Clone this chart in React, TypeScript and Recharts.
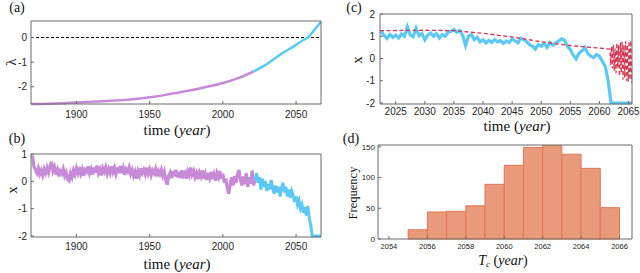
import React from "react";
import { Bar, ComposedChart, Line, LineChart, ReferenceLine, XAxis, YAxis } from "recharts";

// (a) critical parameter lambda over time
const LAMBDA_YEARS = [1869, 1880, 1890, 1900, 1910, 1920, 1930, 1940, 1950, 1960, 1970, 1980, 1990, 2000, 2010, 2021, 2030, 2040, 2050, 2055, 2058, 2062, 2067];
const LAMBDA = [-2.7, -2.69, -2.67, -2.64, -2.61, -2.58, -2.55, -2.5, -2.43, -2.34, -2.23, -2.12, -1.99, -1.85, -1.66, -1.38, -1.08, -0.66, -0.3, -0.1, 0.0, 0.28, 0.64];
const SPLIT_YEAR = 2021;

// (b) simulated state x, one value per year from 1870
const B_START = 1870;
const B_VALUES = [
  0.95, 0.55, 0.42, 0.3, 0.48, 0.26, 0.4, 0.22, 0.45, 0.3,
  0.5, 0.32, 0.55, 0.72, 0.38, 0.52, 0.25, 0.42, 0.18, 0.38,
  0.28, 0.45, 0.2, 0.33, 0.08, 0.02, 0.3, 0.15, 0.4, 0.25,
  0.48, 0.3, 0.52, 0.28, 0.44, 0.2, 0.42, 0.35, 0.55, 0.3,
  0.45, 0.25, 0.5, 0.32, 0.58, 0.3, 0.44, 0.22, 0.48, 0.35,
  0.52, 0.28, 0.46, 0.3, 0.55, 0.34, 0.5, 0.26, 0.44, 0.38,
  0.56, 0.3, 0.48, 0.24, 0.45, 0.36, 0.52, 0.28, 0.42, 0.2,
  0.35, 0.1, 0.38, 0.22, 0.48, 0.3, 0.42, 0.25, 0.5, 0.28,
  0.44, 0.22, 0.4, 0.3, 0.46, 0.18, 0.38, 0.26, 0.42, 0.2,
  0.35, 0.05, -0.12, 0.2, 0.32, 0.12, 0.38, 0.18, 0.42, 0.15,
  0.35, 0.12, 0.4, 0.2, 0.3, 0.1, 0.36, 0.22, 0.5, 0.25,
  0.38, 0.15, 0.3, 0.08, 0.32, 0.18, 0.4, 0.1, 0.28, 0.05,
  0.3, 0.12, 0.35, 0.08, 0.26, 0.02, 0.3, 0.15, 0.38, 0.1,
  0.28, -0.05, 0.1, -0.25, -0.45, -0.1, 0.15, -0.15, 0.2, -0.05,
  0.25, 0.42, 0.05, -0.15, 0.18, -0.1, 0.3, -0.2, 0.15, -0.08,
  0.4, -0.15, 0.05, 0.3, -0.05, 0.15, -0.3, 0.1, -0.2, 0.0,
  -0.35, -0.1, -0.3, 0.05, -0.25, -0.45, -0.15, -0.4, -0.2, -0.55,
  -0.25, -0.05, -0.4, -0.2, -0.55, -0.3, -0.6, -0.35, -0.5, -0.75,
  -0.55, -0.85, -0.7, -1.0, -0.85, -1.15, -0.95, -1.25, -0.9, -1.35,
  -1.6, -2.0, -2.0, -2.0, -2.0, -2.0, -2.0, -2.0,
];
const B_SPLIT = 2022;

// (c) zoom on recent years, half-year samples from 2022.5
const C_START = 2022.5;
const C_VALUES = [
  1.22, 1.05, 0.9, 1.08, 0.95, 1.05, 0.92, 1.1, 1.0, 1.42,
  1.05, 0.98, 1.36, 1.02, 1.12, 0.84, 1.05, 1.15, 1.0, 1.12,
  0.92, 1.08, 1.0, 1.18, 1.22, 1.3, 1.18, 1.25, 1.05, 0.58,
  1.0, 1.08, 0.85, 0.95, 0.75, 0.85, 0.7, 0.82, 0.72, 0.85,
  0.75, 0.8, 0.68, 0.78, 0.72, 0.88, 0.8, 0.7, 0.92, 0.85,
  0.75, 0.62, 0.55, 0.42, 0.62, 0.55, 0.68, 0.5, 0.72, 0.6,
  0.7, 0.78, 0.88, 0.82, 0.55, 0.4, 0.15, -0.02, 0.25, 0.35,
  0.5, 0.22, 0.1, 0.04, 0.18, 0.1, -0.12, -0.35, -1.0, -2.0,
];
const C_END = 2065.6;
const RED_YEARS = [
  2022.3, 2030, 2035, 2040, 2045, 2050, 2055, 2060, 2061.8,
  2061.95, 2062.1, 2062.25, 2062.4, 2062.55, 2062.7, 2062.85, 2063.0, 2063.15, 2063.3,
  2063.45, 2063.6, 2063.75, 2063.9, 2064.05, 2064.2, 2064.35, 2064.5, 2064.65, 2064.8,
  2064.95, 2065.1, 2065.25, 2065.4, 2065.55,
];
const RED_VALUES = [
  1.25, 1.27, 1.25, 1.13, 0.97, 0.75, 0.58, 0.47, 0.42,
  -0.3, 0.55, -0.45, 0.62, -0.55, 0.45, -0.65, 0.7, -0.4, 0.6,
  -0.8, 0.72, -0.65, 0.75, -0.95, 0.6, -0.85, 0.78, -1.0, 0.62,
  -1.05, 0.78, -0.95, 0.8, -1.1,
];

// (d) histogram of tipping year Tc
const BIN_STARTS = [2055, 2056, 2057, 2058, 2059, 2060, 2061, 2062, 2063, 2064, 2065];
const FREQ = [15, 44, 45, 54, 89, 120, 149, 152, 138, 115, 51];

const PURPLE = "#c68ad6";
const CYAN = "#5cc8f4";
const RED = "#d8344f";
const BOX = "#6a6a6a";
const SANS = "'Liberation Sans', Arial, sans-serif";
const SERIF = "'Liberation Serif', 'Times New Roman', serif";

const lambdaRows = LAMBDA_YEARS.map((t, i) => ({ t, v: LAMBDA[i] }));
const bRows = B_VALUES.map((v, i) => ({ t: B_START + i, v }));
const cRows = [...C_VALUES.map((v, i) => ({ t: C_START + i / 2, v })), { t: C_END, v: -2 }];
const redRows = RED_YEARS.map((t, i) => ({ t, v: RED_VALUES[i] }));
const histRows = BIN_STARTS.map((b, i) => ({ mid: b + 0.5, f: FREQ[i] }));

function tickStyle(size: number) {
  return { fontSize: size, fill: "#262626", fontFamily: SANS };
}

// top and right axes close the box (ticks point inward, no labels);
// an invisible series keeps them bound to the same scales
function boxAxes(xDomain: number[], xTicks: number[], yDomain: number[], yTicks: number[], rows: any[], xKey: string, yKey: string) {
  return [
    <XAxis
      key="xt"
      xAxisId="top"
      orientation="top"
      dataKey={xKey}
      type="number"
      domain={xDomain}
      ticks={xTicks}
      height={1}
      tick={false}
      tickSize={-3}
      tickLine={{ stroke: BOX }}
      axisLine={{ stroke: BOX }}
    />,
    <YAxis
      key="yr"
      yAxisId="right"
      orientation="right"
      type="number"
      domain={yDomain}
      ticks={yTicks}
      width={1}
      tick={false}
      tickSize={-3}
      tickLine={{ stroke: BOX }}
      axisLine={{ stroke: BOX }}
    />,
    <Line
      key="ghost"
      xAxisId="top"
      yAxisId="right"
      data={rows}
      dataKey={yKey}
      stroke="transparent"
      dot={false}
      activeDot={false}
      legendType="none"
      isAnimationActive={false}
    />,
  ];
}

function Txt({ x, y, size, rotate, children, family }: any) {
  return (
    <div
      style={{
        position: "absolute",
        left: x,
        top: y,
        transform: `translate(-50%, -50%) rotate(${rotate || 0}deg)`,
        fontFamily: family || SERIF,
        fontSize: size,
        color: "#111",
        whiteSpace: "nowrap",
        lineHeight: 1,
      }}
    >
      {children}
    </div>
  );
}

function TimeLabel() {
  return (
    <span>
      time (<i>year</i>)
    </span>
  );
}

export default function App() {
  const aX = [1869, 2067];
  const aTicks = [1900, 1950, 2000, 2050];
  const bY = [-2.035, 1];
  const cX = [2022.3, 2065.6];
  const cY = [-2.045, 2];
  const cTicks = [2025, 2030, 2035, 2040, 2045, 2050, 2055, 2060, 2065];
  const dX = [2053.43, 2066.65];
  const dTicks = [2054, 2056, 2058, 2060, 2062, 2064, 2066];

  return (
    <div style={{ position: "absolute", left: 0, top: 0, width: 640, height: 273, background: "#fff", overflow: "hidden" }}>
      {/* (a) */}
      <div style={{ position: "absolute", left: 0, top: 0 }}>
        <LineChart width={330} height={130} margin={{ top: 20, right: 8, bottom: 6, left: 0 }}>
          <XAxis
            dataKey="t"
            type="number"
            domain={aX}
            ticks={aTicks}
            height={20}
            tickSize={-3}
            tickMargin={10}
            tick={tickStyle(10)}
            tickLine={{ stroke: BOX }}
            axisLine={{ stroke: BOX }}
          />
          <YAxis
            type="number"
            domain={[-2.7, 0.67]}
            ticks={[-2, -1, 0]}
            width={31}
            tickSize={-3}
            tickMargin={7}
            tick={tickStyle(10)}
            tickLine={{ stroke: BOX }}
            axisLine={{ stroke: BOX }}
          />
          {boxAxes(aX, aTicks, [-2.7, 0.67], [-2, -1, 0], lambdaRows, "t", "v")}
          <ReferenceLine y={0} stroke="#000" strokeDasharray="3 2" strokeWidth={1} />
          <Line data={lambdaRows.filter((r) => r.t <= SPLIT_YEAR)} dataKey="v" type="monotone" stroke={PURPLE} strokeWidth={2.5} dot={false} isAnimationActive={false} />
          <Line data={lambdaRows.filter((r) => r.t >= SPLIT_YEAR)} dataKey="v" type="monotone" stroke={CYAN} strokeWidth={2.5} dot={false} isAnimationActive={false} />
        </LineChart>
      </div>

      {/* (b) */}
      <div style={{ position: "absolute", left: 0, top: 137 }}>
        <LineChart width={330} height={130} margin={{ top: 16, right: 8, bottom: 10, left: 0 }}>
          <XAxis
            dataKey="t"
            type="number"
            domain={aX}
            ticks={aTicks}
            height={20}
            tickSize={-3}
            tickMargin={9}
            tick={tickStyle(10)}
            tickLine={{ stroke: BOX }}
            axisLine={{ stroke: BOX }}
          />
          <YAxis
            type="number"
            domain={bY}
            ticks={[-2, -1, 0, 1]}
            width={31}
            tickSize={-3}
            tickMargin={7}
            tick={tickStyle(10)}
            tickLine={{ stroke: BOX }}
            axisLine={{ stroke: BOX }}
          />
          {boxAxes(aX, aTicks, bY, [-2, -1, 0, 1], bRows, "t", "v")}
          <Line data={bRows.filter((r) => r.t <= B_SPLIT)} dataKey="v" type="linear" stroke={PURPLE} strokeWidth={3.2} dot={false} isAnimationActive={false} />
          <Line data={bRows.filter((r) => r.t >= B_SPLIT)} dataKey="v" type="linear" stroke={CYAN} strokeWidth={3} dot={false} isAnimationActive={false} />
        </LineChart>
      </div>

      {/* (c) */}
      <div style={{ position: "absolute", left: 330, top: 0 }}>
        <LineChart width={310} height={130} margin={{ top: 13, right: 7, bottom: 6, left: 0 }}>
          <XAxis
            dataKey="t"
            type="number"
            domain={cX}
            ticks={cTicks}
            height={20}
            tickSize={-3}
            tickMargin={7}
            tick={tickStyle(10)}
            tickLine={{ stroke: BOX }}
            axisLine={{ stroke: BOX }}
          />
          <YAxis
            type="number"
            domain={cY}
            ticks={[-2, -1, 0, 1, 2]}
            width={50}
            tickSize={-3}
            tickMargin={8}
            tick={tickStyle(10)}
            tickLine={{ stroke: BOX }}
            axisLine={{ stroke: BOX }}
          />
          {boxAxes(cX, cTicks, cY, [-2, -1, 0, 1, 2], cRows, "t", "v")}
          <Line data={cRows} dataKey="v" type="linear" stroke={CYAN} strokeWidth={3.2} dot={false} isAnimationActive={false} />
          <Line data={redRows} dataKey="v" type="linear" stroke={RED} strokeWidth={1.3} strokeDasharray="4 2.5" dot={false} isAnimationActive={false} />
        </LineChart>
      </div>

      {/* (d) */}
      <div style={{ position: "absolute", left: 330, top: 137 }}>
        <ComposedChart width={310} height={136} data={histRows} margin={{ top: 7, right: 7, bottom: 18, left: 0 }} barCategoryGap={0} barGap={0}>
          <XAxis
            dataKey="mid"
            type="number"
            domain={dX}
            ticks={dTicks}
            height={16}
            tickSize={-3}
            tickMargin={8}
            tick={tickStyle(7.5)}
            tickLine={{ stroke: BOX }}
            axisLine={{ stroke: BOX }}
          />
          <YAxis
            type="number"
            domain={[0, 153]}
            ticks={[0, 50, 100, 150]}
            width={48}
            tickSize={-3}
            tickMargin={6}
            tick={tickStyle(8)}
            tickLine={{ stroke: BOX }}
            axisLine={{ stroke: BOX }}
          />
          {boxAxes(dX, dTicks, [0, 153], [0, 50, 100, 150], histRows, "mid", "f")}
          <Bar dataKey="f" fill="#e99a7b" stroke="#e07656" strokeWidth={1} barSize={19.2} isAnimationActive={false} />
        </ComposedChart>
      </div>

      <Txt x={17} y={8} size={14}>(a)</Txt>
      <Txt x={17} y={139} size={14}>(b)</Txt>
      <Txt x={354} y={8} size={14}>(c)</Txt>
      <Txt x={351} y={139} size={14}>(d)</Txt>

      <Txt x={11} y={62} size={15} rotate={-90}>λ</Txt>
      <Txt x={12} y={190} size={15} rotate={-90}>x</Txt>
      <Txt x={357} y={60} size={15} rotate={-90}>x</Txt>
      <Txt x={353} y={193} size={12.5} rotate={-90}>Frequency</Txt>

      <Txt x={177} y={130} size={15}><TimeLabel /></Txt>
      <Txt x={177} y={264} size={15}><TimeLabel /></Txt>
      <Txt x={517} y={126} size={15}><TimeLabel /></Txt>
      <Txt x={503} y={261} size={14}>
        <span>
          <i>T</i>
          <sub style={{ fontSize: 9, verticalAlign: "-2px" }}><i>c</i></sub> (<i>year</i>)
        </span>
      </Txt>
    </div>
  );
}
